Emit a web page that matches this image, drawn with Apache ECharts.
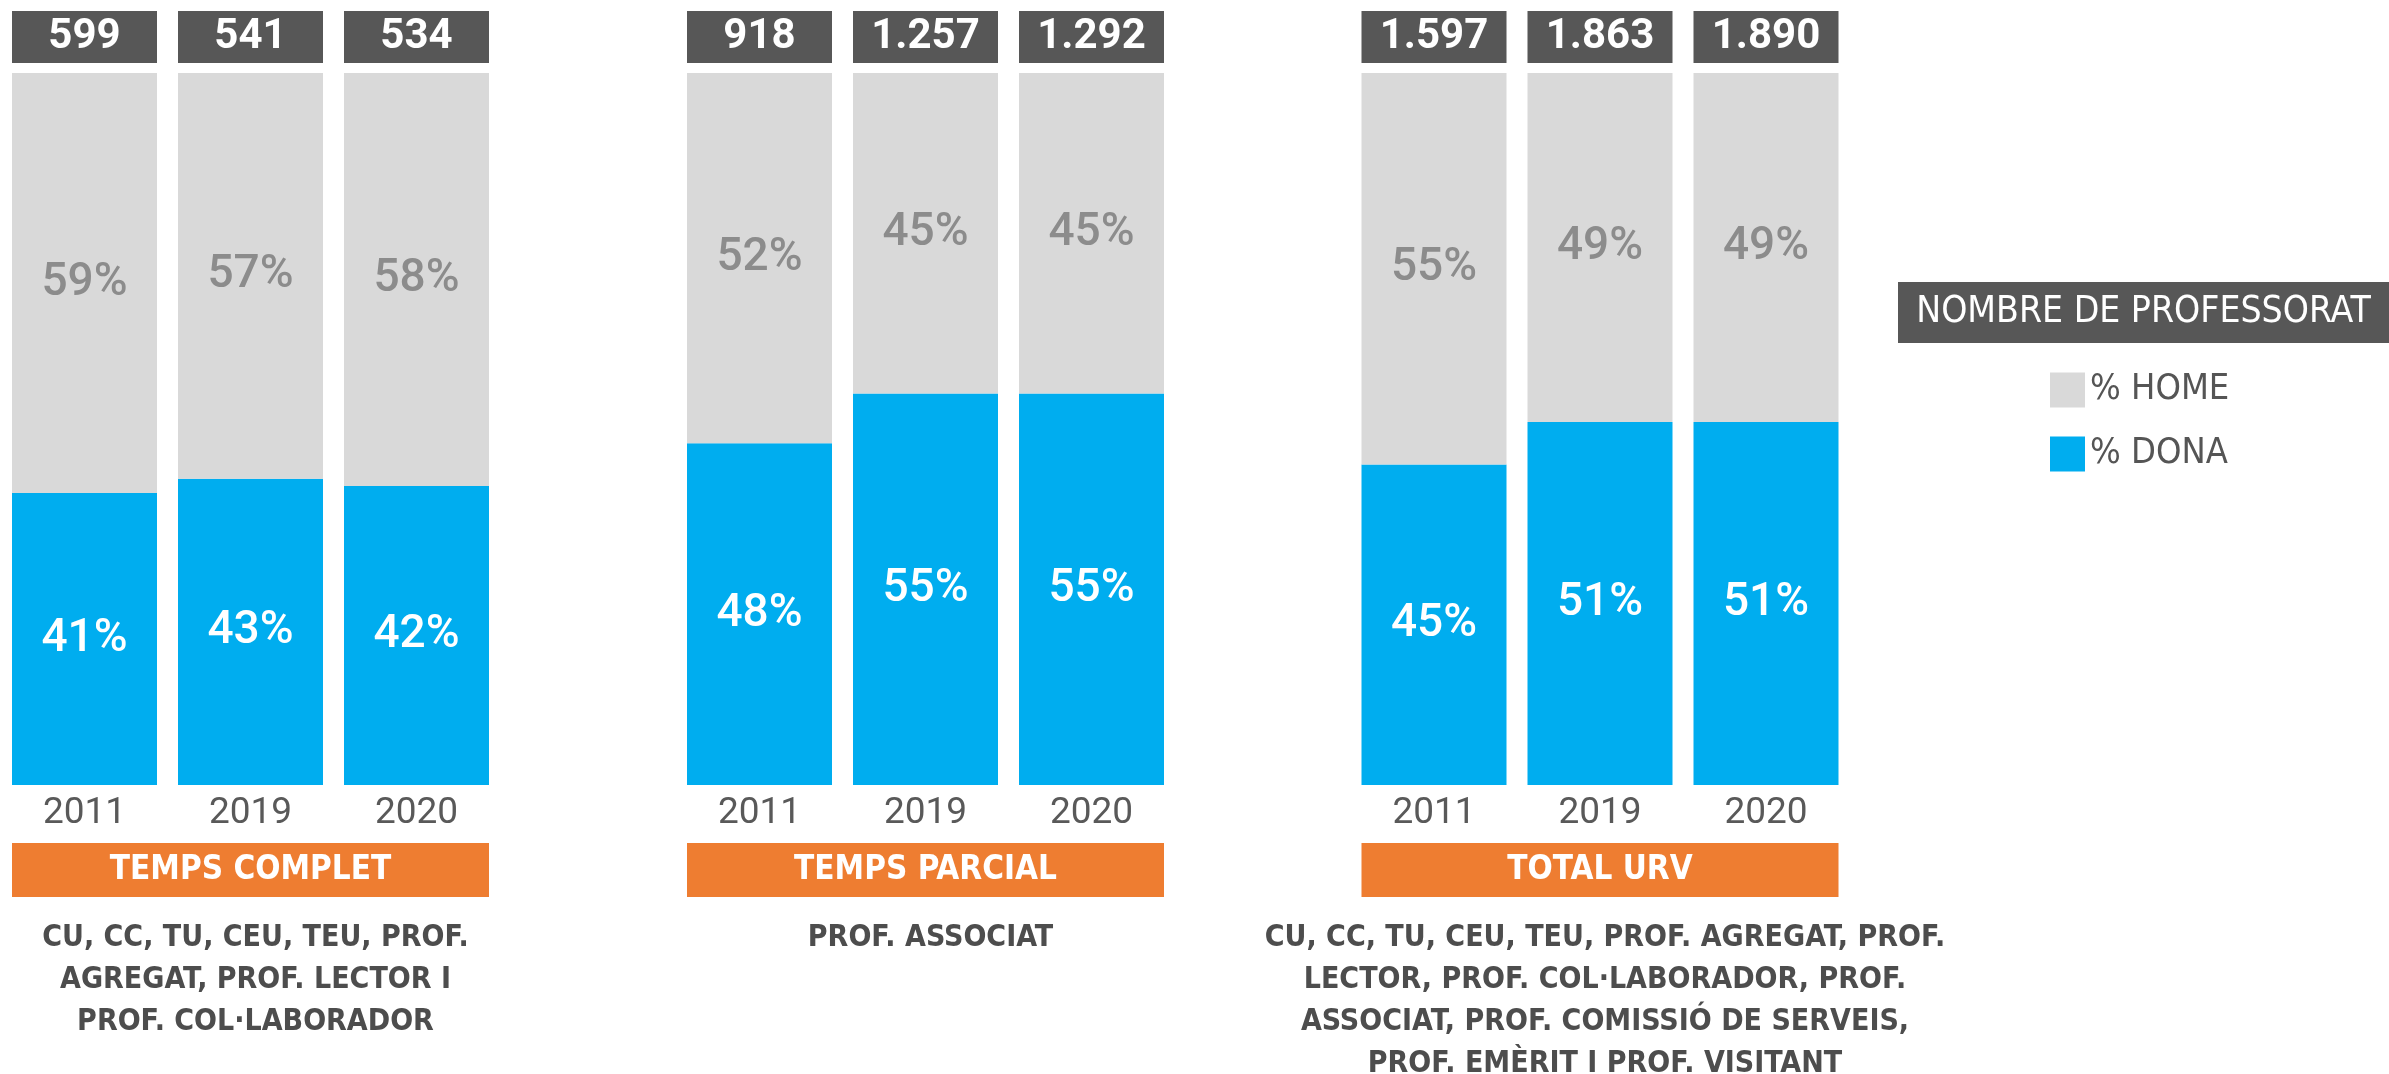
<!DOCTYPE html>
<html>
<head>
<meta charset="utf-8">
<script src="https://cdn.jsdelivr.net/npm/echarts@6/dist/echarts.min.js"></script>
<style>
  html, body { margin: 0; padding: 0; background: #fff; }
  #chart { width: 2389px; height: 1074px; }
</style>
</head>
<body>
<div id="chart"></div>
<script>
// dades
const years = ["2011", "2019", "2020"];
const groups = ["TEMPS COMPLET", "TEMPS PARCIAL", "TOTAL URV"];
const dona = [[41, 43, 42], [48, 55, 55], [45, 51, 51]];
const home = [[59, 57, 58], [52, 45, 45], [55, 49, 49]];
const totals = [[599, 541, 534], [918, 1257, 1292], [1597, 1863, 1890]];
const notes = [
  "CU, CC, TU, CEU, TEU, PROF.\nAGREGAT, PROF. LECTOR I\nPROF. COL·LABORADOR",
  "PROF. ASSOCIAT",
  "CU, CC, TU, CEU, TEU, PROF. AGREGAT, PROF.\nLECTOR, PROF. COL·LABORADOR, PROF.\nASSOCIAT, PROF. COMISSIÓ DE SERVEIS,\nPROF. EMÈRIT I PROF. VISITANT",
];

const NARROW = '"DejaVu Sans Condensed", "Liberation Sans Narrow", sans-serif';
const GRAY = "#d9d9d9";
const BLUE = "#00adef";
const DARK = "#575757";
const ORANGE = "#ee7d31";

const fmt = (n) => String(n).replace(/\B(?=(\d{3})+(?!\d))/g, ".");

const gridLeft = [1.5, 676.5, 1351];
const gridW = 498;

const chart = echarts.init(document.getElementById("chart"));

let grid = [], xAxis = [], yAxis = [], series = [], title = [];
groups.forEach((g, i) => {
  grid.push({ left: gridLeft[i], width: gridW, top: 73, bottom: 289 });
  xAxis.push({
    type: "category",
    gridIndex: i,
    data: years,
    axisLine: { show: false },
    axisTick: { show: false },
    axisLabel: { margin: 10, fontFamily: "Roboto", fontSize: 37, color: "#595959" },
    name: "{n|" + g + "}",
    nameLocation: "middle",
    nameGap: 58,
    nameTextStyle: {
      rich: {
        n: {
          fontFamily: NARROW, fontWeight: "bold", fontSize: 33, color: "#fff",
          backgroundColor: ORANGE, width: 477, height: 54, lineHeight: 54, align: "center",
        },
      },
    },
  });
  yAxis.push({ type: "value", gridIndex: i, min: 0, max: 100, show: false });
  series.push({
    name: "% DONA", type: "bar", stack: "s" + i, xAxisIndex: i, yAxisIndex: i,
    barWidth: 145, data: dona[i], itemStyle: { color: BLUE },
    label: { show: true, position: "inside", formatter: "{c}%", color: "#fff",
      fontFamily: "Roboto", fontWeight: 500, fontSize: 46 },
  });
  series.push({
    name: "% HOME", type: "bar", stack: "s" + i, xAxisIndex: i, yAxisIndex: i,
    barWidth: 145, data: home[i], itemStyle: { color: GRAY },
    label: { show: true, position: "inside", formatter: "{c}%", color: "#8c8c8c",
      fontFamily: "Roboto", fontWeight: 500, fontSize: 46 },
  });
  series.push({
    name: "total", type: "scatter", xAxisIndex: i, yAxisIndex: i, clip: false,
    symbol: "rect", symbolSize: [145, 52], symbolOffset: [0, -36],
    itemStyle: { color: DARK, opacity: 1 }, silent: true,
    data: totals[i].map((t, j) => ({ value: [j, 100], total: t })),
    label: { show: true, position: "inside", formatter: (p) => fmt(p.data.total),
      color: "#fff", fontFamily: "Roboto", fontWeight: "bold", fontSize: 42 },
  });
  title.push({
    text: notes[i],
    left: gridLeft[i] + gridW / 2,
    top: 912,
    textAlign: "center",
    textStyle: { fontFamily: NARROW, fontWeight: "bold", fontSize: 30, lineHeight: 42, color: "#4d4d4d" },
  });
});

title.push({
  text: "{h|NOMBRE DE PROFESSORAT}",
  left: 1898, top: 282, padding: 0,
  textStyle: {
    rich: {
      h: { width: 491, height: 61, lineHeight: 61, align: "center", backgroundColor: DARK,
        color: "#fff", fontFamily: NARROW, fontWeight: "normal", fontSize: 37 },
    },
  },
});

chart.setOption({
  animation: false,
  title,
  legend: {
    data: [
      { name: "% HOME", itemStyle: { color: GRAY } },
      { name: "% DONA", itemStyle: { color: BLUE } },
    ],
    orient: "vertical",
    left: 2050, top: 372,
    padding: 0,
    itemWidth: 35, itemHeight: 35, itemGap: 28,
    icon: "rect",
    selectedMode: false,
    textStyle: { fontFamily: NARROW, fontSize: 36, color: "#555" },
  },
  grid, xAxis, yAxis, series,
});
</script>
</body>
</html>
